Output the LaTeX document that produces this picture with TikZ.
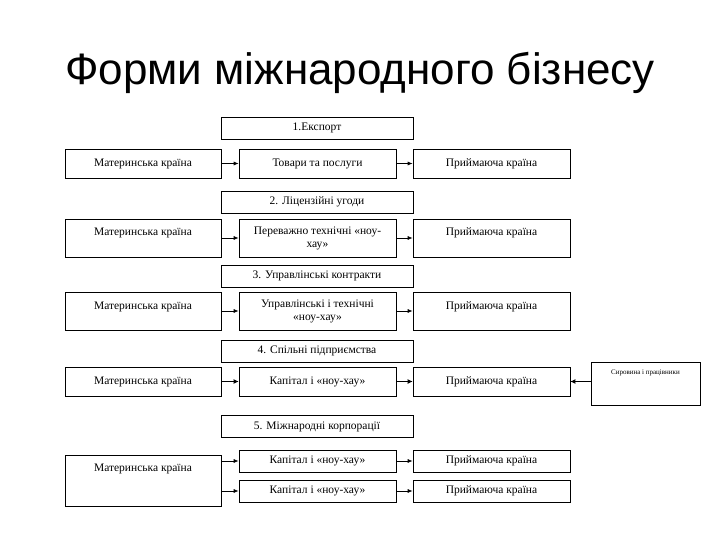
\documentclass[tikz,border=0pt]{standalone}
\usepackage{fontspec}
\setmainfont{Liberation Serif}
\newfontfamily\titlefont{Liberation Sans}
\usetikzlibrary{arrows.meta}
\begin{document}
\begin{tikzpicture}[x=1pt,y=-1pt,
  bx/.style={draw, line width=0.7pt, rectangle, inner sep=0pt, font=\fontsize{11.5}{13}\selectfont, align=center},
  lw/.style={bx, minimum width=156pt},
  mw/.style={bx, minimum width=157pt},
  hw/.style={bx, minimum width=192pt, minimum height=22pt},
  arr/.style={-{Latex[length=5pt,width=4pt]}, line width=0.7pt},
  barr/.style={-{Latex[length=5pt,width=5pt]}, line width=1.4pt}]
\useasboundingbox (0,0) rectangle (720,540);
\node[font=\titlefont\fontsize{44}{50}\selectfont] (title) at (360,73) {Форми міжнародного бізнесу};
% Row 1
\node[hw] (h1) at (317,128) {1.Експорт};
\node[lw, minimum height=29pt] (l1) at (143,163.5) {Материнська країна};
\node[mw, minimum height=29pt] (c1) at (317.5,163.5) {Товари та послуги};
\node[mw, minimum height=29pt] (r1) at (491.5,163.5) {Приймаюча країна};
\draw[arr] (l1) -- (c1);
\draw[arr] (c1) -- (r1);
% Row 2
\node[hw] (h2) at (317,202) {2. Ліцензійні угоди};
\node[lw, text height=17pt, text depth=21pt] (l2) at (143,238) {Материнська країна};
\node[mw, minimum height=38pt] (c2) at (317.5,238) {Переважно технічні «ноу-\\хау»};
\node[mw, text height=17pt, text depth=21pt] (r2) at (491.5,238) {Приймаюча країна};
\draw[arr] (l2) -- (c2);
\draw[arr] (c2) -- (r2);
% Row 3
\node[hw] (h3) at (317,276) {3. Управлінські контракти};
\node[lw, text height=17pt, text depth=21pt] (l3) at (143,311) {Материнська країна};
\node[mw, minimum height=38pt] (c3) at (317.5,311) {Управлінські і технічні\\«ноу-хау»};
\node[mw, text height=17pt, text depth=21pt] (r3) at (491.5,311) {Приймаюча країна};
\draw[arr] (l3) -- (c3);
\draw[arr] (c3) -- (r3);
% Row 4
\node[hw] (h4) at (317,351) {4. Спільні підприємства};
\node[lw, minimum height=29pt] (l4) at (143,381.5) {Материнська країна};
\node[mw, minimum height=29pt] (c4) at (317.5,381.5) {Капітал і «ноу-хау»};
\node[mw, minimum height=29pt] (r4) at (491.5,381.5) {Приймаюча країна};
\node[bx, minimum width=109pt, font=\fontsize{7}{8}\selectfont, text height=12pt, text depth=31pt] (s4) at (645.5,383.5) {Сировина і працівники};
\draw[barr] (l4) -- (c4);
\draw[barr] (c4) -- (r4);
\draw[barr] (s4.west |- r4.east) -- (r4.east);
% Row 5
\node[hw] (h5) at (317,426.5) {5. Міжнародні корпорації};
\node[lw, text height=16pt, text depth=35pt] (l5) at (143,481) {Материнська країна};
\node[mw, minimum height=22pt] (c5a) at (317.5,461) {Капітал і «ноу-хау»};
\node[mw, minimum height=22pt] (r5a) at (491.5,461) {Приймаюча країна};
\node[mw, minimum height=22pt] (c5b) at (317.5,491) {Капітал і «ноу-хау»};
\node[mw, minimum height=22pt] (r5b) at (491.5,491) {Приймаюча країна};
\draw[arr] (l5.east |- c5a.west) -- (c5a.west);
\draw[arr] (l5.east |- c5b.west) -- (c5b.west);
\draw[arr] (c5a) -- (r5a);
\draw[arr] (c5b) -- (r5b);
\end{tikzpicture}
\end{document}
